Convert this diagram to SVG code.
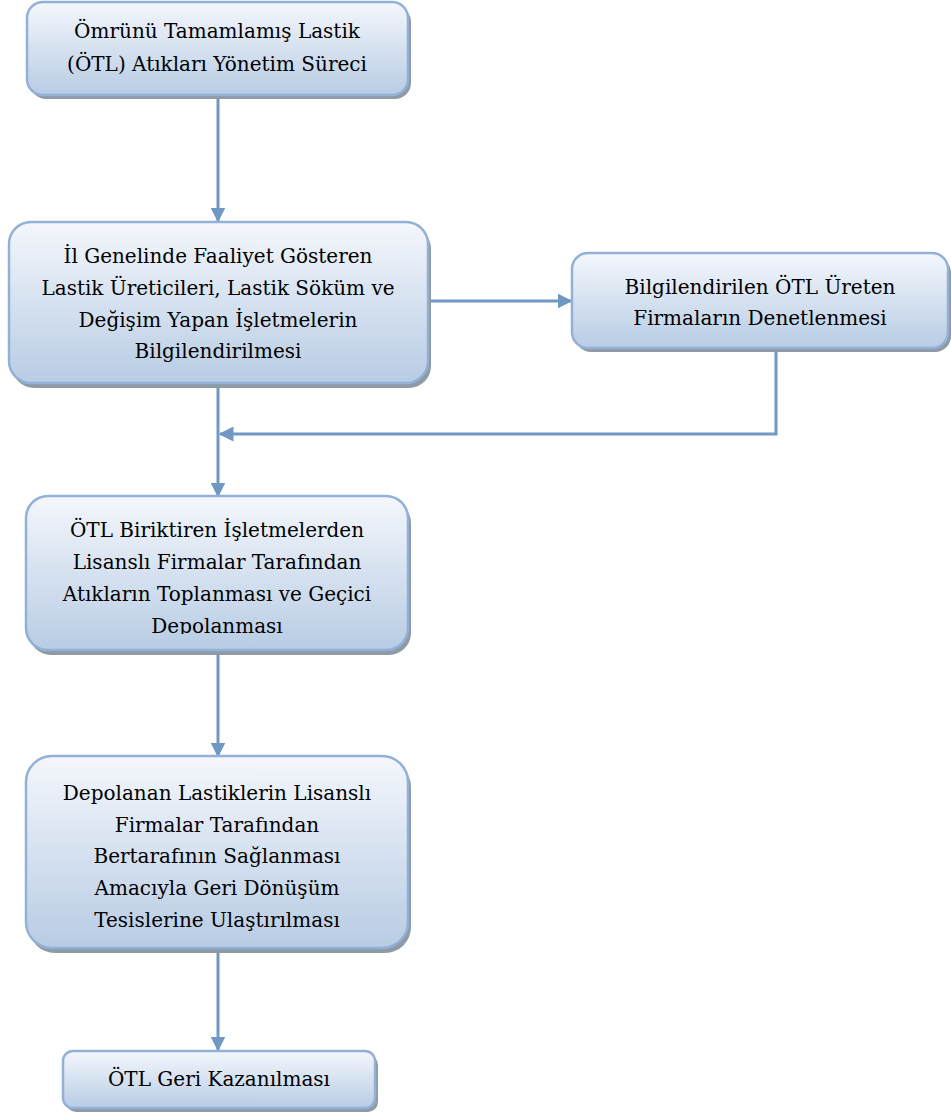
<svg xmlns="http://www.w3.org/2000/svg" width="951" height="1115" viewBox="0 0 951 1115">
<style>
.box{fill:url(#g);stroke:#93b1d6;stroke-width:2.5}
.sh{fill:#8e9aa6}
.t{font-family:"DejaVu Serif","Liberation Serif",serif;font-size:20px;fill:#000;text-anchor:middle}
.c{fill:none;stroke:#7098c2;stroke-width:3}
</style>
<defs>
<linearGradient id="g" x1="0" y1="0" x2="0" y2="1">
<stop offset="0" stop-color="#f4f7fc"/>
<stop offset="1" stop-color="#b8cce4"/>
</linearGradient>
<marker id="a" viewBox="0 0 10 10" refX="9" refY="5" markerWidth="5" markerHeight="5" orient="auto" markerUnits="strokeWidth">
<path d="M0,0 L10,5 L0,10 z" fill="#7098c2"/>
</marker>
<clipPath id="cp4"><rect x="26" y="496" width="382" height="138"/></clipPath>
</defs>
<g id="connectors">
<line class="c" x1="218" y1="96" x2="218" y2="221" marker-end="url(#a)"/>
<line class="c" x1="428" y1="301" x2="571" y2="301" marker-end="url(#a)"/>
<line class="c" x1="218" y1="386" x2="218" y2="496" marker-end="url(#a)"/>
<polyline class="c" points="776,350 776,434 220,434" marker-end="url(#a)"/>
<line class="c" x1="218" y1="652" x2="218" y2="756" marker-end="url(#a)"/>
<line class="c" x1="218" y1="950" x2="218" y2="1050" marker-end="url(#a)"/>
</g>
<g id="n1">
<rect class="sh" x="30" y="6" width="381" height="93" rx="16"/>
<rect class="box" x="27" y="2" width="381" height="93" rx="16"/>
<text class="t" x="217" y="38">Ömrünü Tamamlamış Lastik</text>
<text class="t" x="217" y="71">(ÖTL) Atıkları Yönetim Süreci</text>
</g>
<g id="n2">
<rect class="sh" x="12" y="227" width="419" height="161" rx="22"/>
<rect class="box" x="9" y="222" width="419" height="161" rx="22"/>
<text class="t" x="218" y="263">İl Genelinde Faaliyet Gösteren</text>
<text class="t" x="218" y="295">Lastik Üreticileri, Lastik Söküm ve</text>
<text class="t" x="218" y="327">Değişim Yapan İşletmelerin</text>
<text class="t" x="218" y="358">Bilgilendirilmesi</text>
</g>
<g id="n3">
<rect class="sh" x="575" y="257" width="376" height="95" rx="16"/>
<rect class="box" x="572" y="253" width="376" height="95" rx="16"/>
<text class="t" x="760" y="294">Bilgilendirilen ÖTL Üreten</text>
<text class="t" x="760" y="325">Firmaların Denetlenmesi</text>
</g>
<g id="n4">
<rect class="sh" x="29" y="501" width="382" height="154" rx="22"/>
<rect class="box" x="26" y="496" width="382" height="154" rx="22"/>
<g clip-path="url(#cp4)">
<text class="t" x="217" y="537">ÖTL Biriktiren İşletmelerden</text>
<text class="t" x="217" y="569">Lisanslı Firmalar Tarafından</text>
<text class="t" x="217" y="601">Atıkların Toplanması ve Geçici</text>
<text class="t" x="217" y="633">Depolanması</text>
</g>
</g>
<g id="n5">
<rect class="sh" x="29" y="761" width="382" height="192" rx="26"/>
<rect class="box" x="26" y="756" width="382" height="192" rx="26"/>
<text class="t" x="217" y="800">Depolanan Lastiklerin Lisanslı</text>
<text class="t" x="217" y="832">Firmalar Tarafından</text>
<text class="t" x="217" y="863">Bertarafının Sağlanması</text>
<text class="t" x="217" y="895">Amacıyla Geri Dönüşüm</text>
<text class="t" x="217" y="927">Tesislerine Ulaştırılması</text>
</g>
<g id="n6">
<rect class="sh" x="66" y="1055" width="312" height="57" rx="10"/>
<rect class="box" x="63" y="1051" width="312" height="57" rx="10"/>
<text class="t" x="219" y="1086">ÖTL Geri Kazanılması</text>
</g>
</svg>
